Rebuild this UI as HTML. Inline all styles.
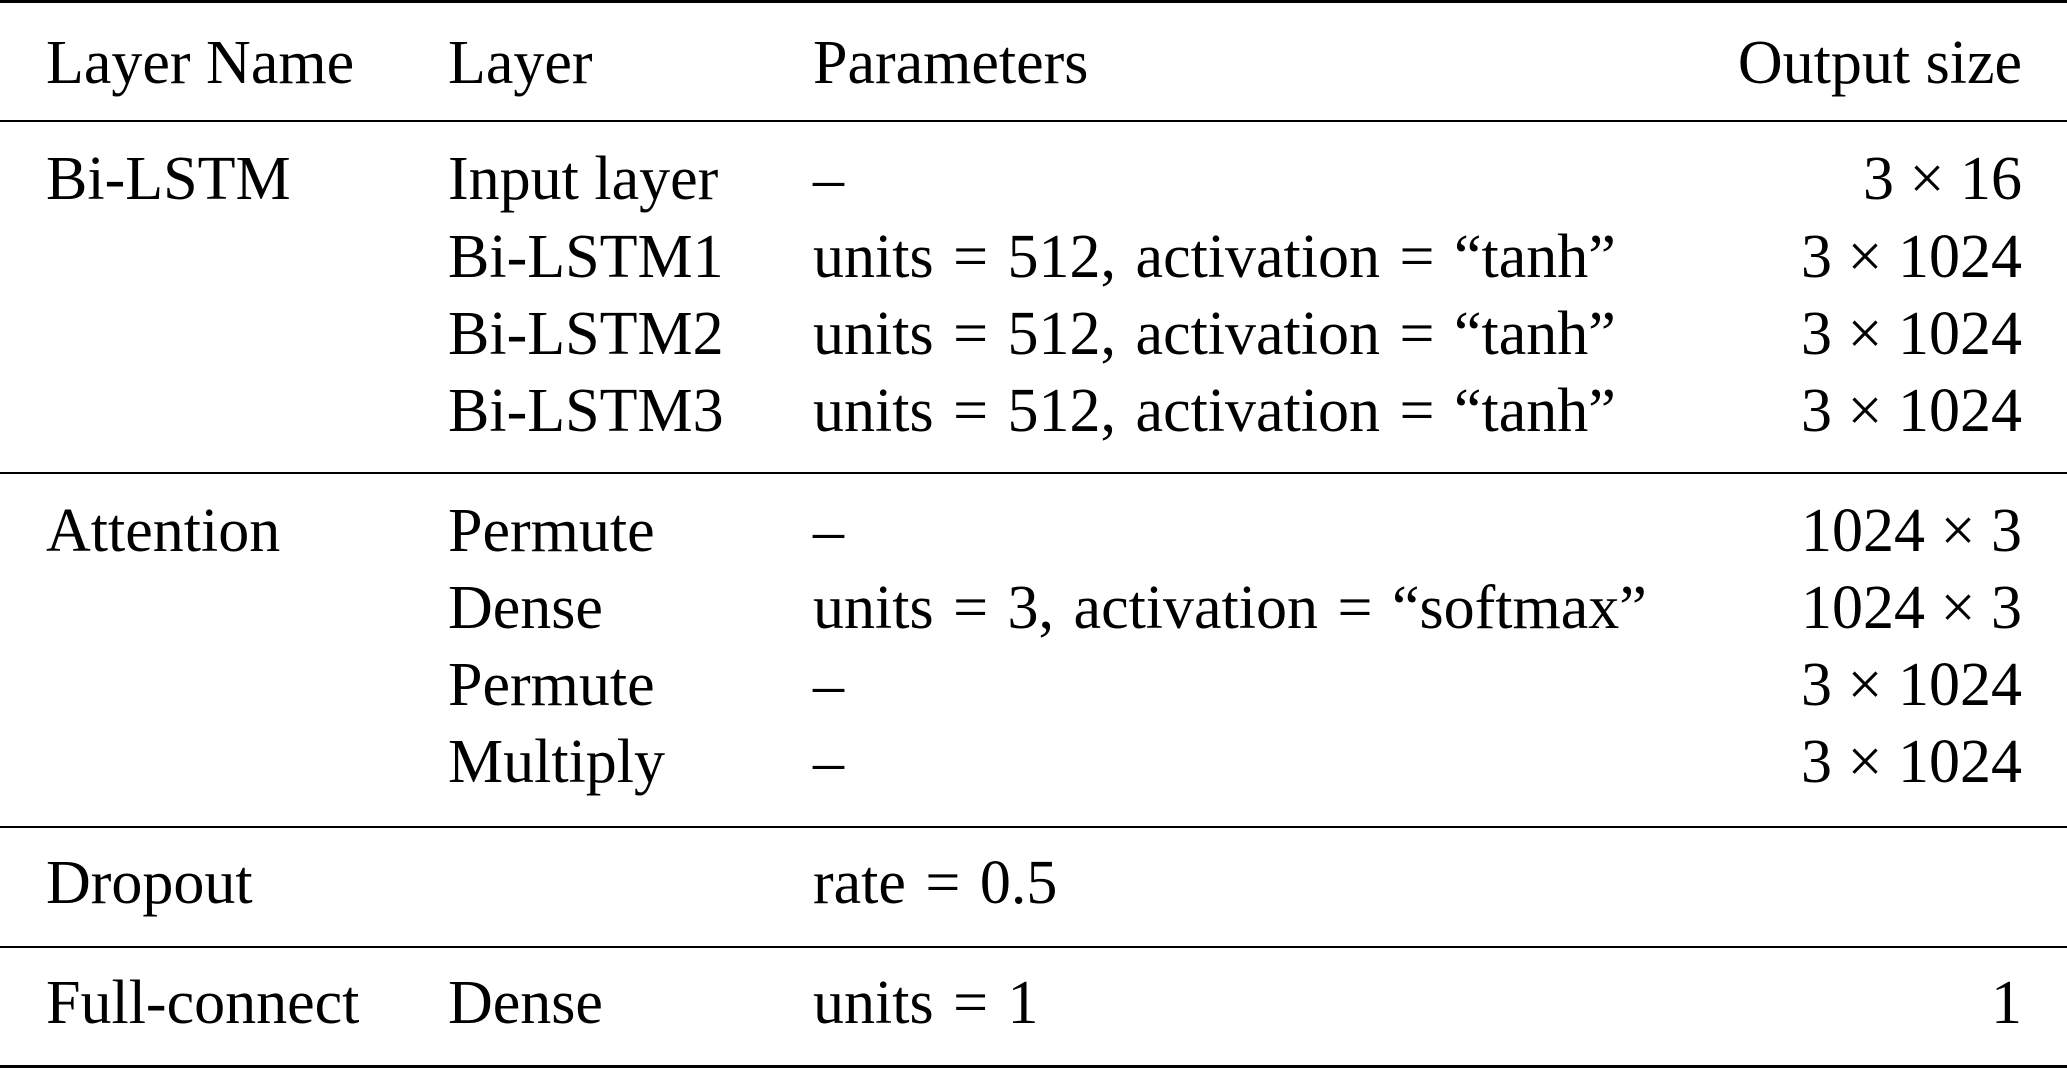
<!DOCTYPE html>
<html><head><meta charset="utf-8"><style>
body{margin:0;background:#fff;width:2067px;height:1070px;position:relative;overflow:hidden;font-family:"Liberation Serif",serif;font-size:62px;color:#000}
.l{position:absolute;left:0;width:2067px;background:#000}
.t{position:absolute;white-space:nowrap;line-height:1;}
.p{word-spacing:4px}
.r{position:absolute;right:45px;white-space:nowrap;line-height:1;text-align:right}
</style></head><body>
<div class="l" style="top:0;height:3px"></div>
<div class="l" style="top:120px;height:2px"></div>
<div class="l" style="top:472px;height:2px"></div>
<div class="l" style="top:826px;height:2px"></div>
<div class="l" style="top:946px;height:2px"></div>
<div class="l" style="top:1065px;height:3px"></div>
<div id="c"></div>
<script>
var rows=[
[87,"Layer Name","Layer","Parameters","Output size"],
[203,"Bi-LSTM","Input layer","–","3 × 16"],
[281,"","Bi-LSTM1","units = 512, activation = “tanh”","3 × 1024"],
[358,"","Bi-LSTM2","units = 512, activation = “tanh”","3 × 1024"],
[435,"","Bi-LSTM3","units = 512, activation = “tanh”","3 × 1024"],
[555,"Attention","Permute","–","1024 × 3"],
[632,"","Dense","units = 3, activation = “softmax”","1024 × 3"],
[709,"","Permute","–","3 × 1024"],
[786,"","Multiply","–","3 × 1024"],
[907,"Dropout","","rate = 0.5",""],
[1027,"Full-connect","Dense","units = 1","1"]];
var h="";
rows.forEach(function(r){var top=r[0]-55;
h+='<div class="t" style="left:46px;top:'+top+'px">'+r[1]+'</div>';
h+='<div class="t" style="left:448px;top:'+top+'px">'+r[2]+'</div>';
h+='<div class="t p" style="left:813px;top:'+top+'px">'+r[3]+'</div>';
h+='<div class="r" style="top:'+top+'px">'+r[4]+'</div>';});
document.getElementById("c").innerHTML=h;
</script>
</body></html>
